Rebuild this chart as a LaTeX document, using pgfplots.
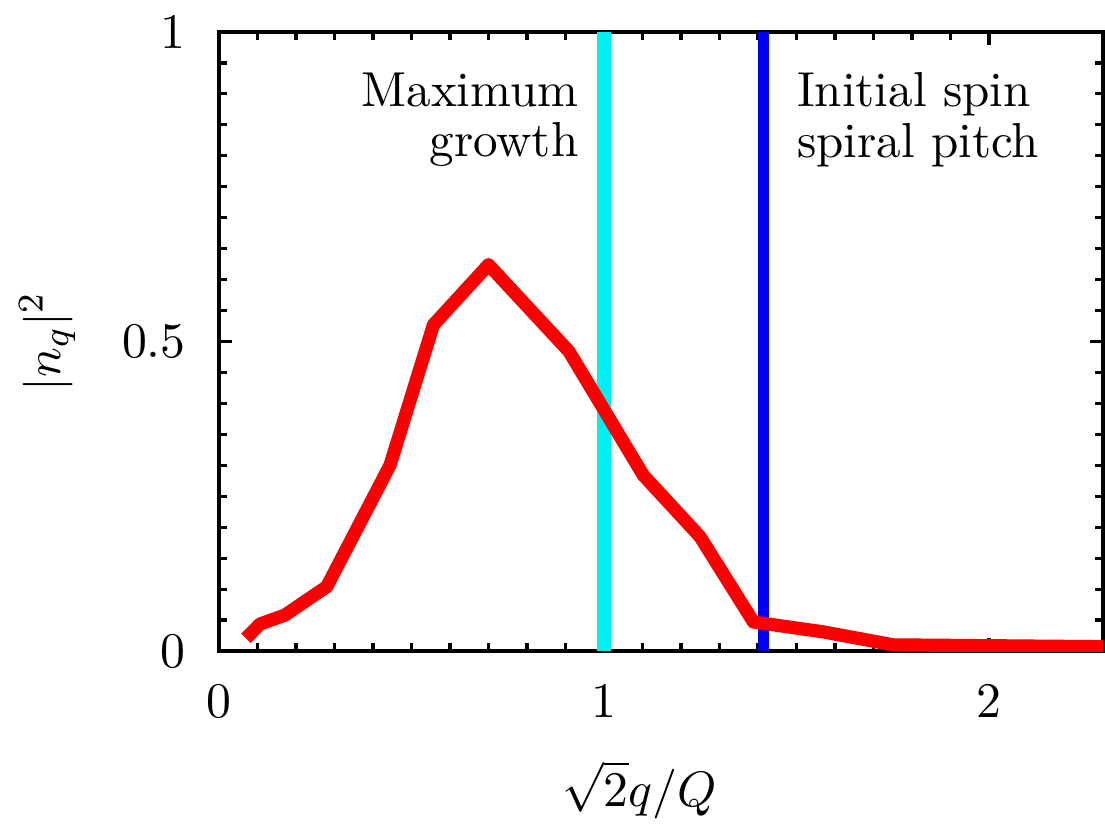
\documentclass[border=0pt]{standalone}
\usepackage{pgfplots}
\pgfplotsset{compat=1.18}
\begin{document}
\begin{tikzpicture}
\begin{axis}[
  width=194.5pt, height=136.2pt, scale only axis,
  xmin=0, xmax=2.296, ymin=0, ymax=1,
  xtick={0,1,2}, ytick={0,0.5,1},
  minor x tick num=9, minor y tick num=9,
  major tick length=2.9pt, minor tick length=1.8pt,
  axis line style={line width=0.8pt},
  every tick/.style={black, line width=0.7pt},
  tick label style={font=\fontsize{10.8}{12.9}\selectfont},
  xticklabel style={inner sep=0pt, yshift=-7.3pt}, yticklabel style={xshift=-3.8pt},
  xlabel={$\sqrt{2}q/Q$}, ylabel={$|n_q|^2$},
  label style={font=\fontsize{10.8}{12.9}\selectfont},
  xlabel style={at={(rel axis cs:0.476,0)}, anchor=base, yshift=-34.1pt, inner sep=0pt},
  ylabel style={at={([xshift=-37.8pt]rel axis cs:0,0.5)}, anchor=center},
]
\addplot[color={rgb,255:red,0;green,240;blue,240}, line width=3pt] coordinates {(1,0) (1,1)};
\addplot[color={rgb,255:red,0;green,0;blue,240}, line width=2.6pt] coordinates {(1.4142,0) (1.4142,1)};
\addplot[color={rgb,255:red,250;green,0;blue,0}, line width=2.9pt, line join=round] coordinates {
(0.070,0.0205) (0.1065,0.0436) (0.171,0.058) (0.280,0.104) (0.444,0.300)
(0.557,0.527) (0.700,0.624) (0.909,0.484) (1.102,0.284) (1.249,0.185)
(1.388,0.047) (1.569,0.031) (1.751,0.010) (2.30,0.007)};
\node[align=right, anchor=east, font=\fontsize{10.8}{11.1}\selectfont] at (axis cs:0.975,0.858) {Maximum\\growth};
\node[align=left, anchor=west, font=\fontsize{10.8}{11.1}\selectfont] at (axis cs:1.46,0.858) {Initial spin\\spiral pitch};
\coordinate (sw) at (rel axis cs:0,0);
\coordinate (ne) at (rel axis cs:1,1);
\end{axis}
\pgfresetboundingbox
\path[use as bounding box] ([shift={(-48.18pt,-38.28pt)}]sw) rectangle ([shift={(0.44pt,7.04pt)}]ne);
\end{tikzpicture}
\end{document}
